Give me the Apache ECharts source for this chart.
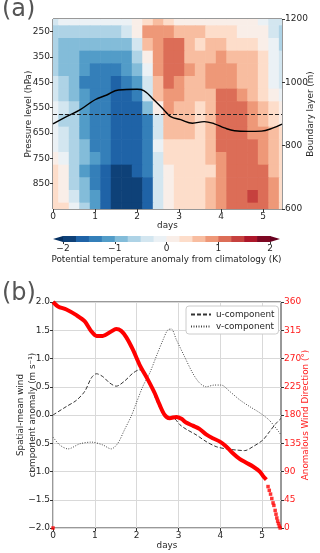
<!DOCTYPE html>
<html>
<head>
<meta charset="utf-8">
<script src="https://cdn.jsdelivr.net/npm/echarts@6/dist/echarts.min.js"></script>
<style>
html, body { margin: 0; padding: 0; background: #fff; }
#chart { width: 320px; height: 553px; }
</style>
</head>
<body>
<div id="chart"></div>
<script>
// ---- panel (a): potential temperature anomaly (K), rows = pressure, cols = days
var days = [0, 0.25, 0.5, 0.75, 1, 1.25, 1.5, 1.75, 2, 2.25, 2.5, 2.75, 3, 3.25, 3.5, 3.75, 4, 4.25, 4.5, 4.75, 5, 5.25, 5.5];
var pressureLevels = [200, 250, 300, 350, 400, 450, 500, 550, 600, 650, 700, 750, 800, 850, 900, 950];
var thetaAnomaly = [
  [-0.4,-0.1,-0.1,-0.1,-0.1,-0.1,-0.1,-0.1, 0.1, 0.4, 0.6, 0.4, 0.1, 0.1, 0.1, 0.1, 0.1, 0.1, 0.1, 0.1,-0.1,-0.4,-0.4],
  [-0.6,-0.6,-0.6,-0.6,-0.6,-0.6,-0.6,-0.4, 0.1, 0.9, 0.9, 0.9, 0.6, 0.6, 0.6, 0.4, 0.4, 0.4, 0.1, 0.1, 0.1,-0.4,-0.6],
  [-0.6,-0.9,-0.9,-0.9,-0.9,-0.9,-0.9,-0.9,-0.4, 0.6, 0.9, 1.1, 1.1, 0.6, 0.4, 0.6, 0.6, 0.4, 0.4, 0.4, 0.1,-0.1,-0.6],
  [-0.6,-0.9,-0.9,-1.1,-1.1,-1.1,-1.1,-1.1,-0.6, 0.1, 0.9, 1.1, 1.1, 0.6, 0.6, 0.6, 0.9, 0.6, 0.6, 0.6, 0.4,-0.1,-0.4],
  [-0.6,-0.9,-0.9,-1.1,-1.4,-1.4,-1.4,-1.1,-0.9,-0.1, 0.9, 1.1, 1.1, 0.9, 0.6, 0.9, 0.9, 0.9, 0.6, 0.6, 0.4,-0.1,-0.4],
  [-0.4,-0.6,-0.9,-1.4,-1.4,-1.4,-1.6,-1.4,-1.1,-0.4, 0.6, 1.1, 0.9, 0.6, 0.6, 0.9, 0.9, 0.9, 0.6, 0.6, 0.4,-0.1,-0.4],
  [-0.4,-0.6,-0.9,-1.1,-1.4,-1.4,-1.6,-1.6,-1.4,-0.4, 0.6, 0.9, 0.9, 0.6, 0.6, 0.6, 1.1, 1.1, 0.9, 0.6, 0.4, 0.1,-0.1],
  [-0.1,-0.4,-0.6,-1.1,-1.4,-1.4,-1.6,-1.6,-1.6,-0.9, 0.1, 0.9, 0.6, 0.6, 0.4, 0.6, 1.1, 1.1, 1.1, 0.9, 0.6, 0.4, 0.1],
  [-0.1,-0.6,-0.6,-1.1,-1.4,-1.4,-1.6,-1.6,-1.6,-1.4,-0.4, 0.6, 0.6, 0.6, 0.4, 0.6, 1.1, 1.1, 1.1, 0.9, 0.6, 0.4, 0.1],
  [-0.1,-0.4,-0.6,-1.1,-1.4,-1.4,-1.6,-1.6,-1.6,-1.4,-0.4, 0.6, 0.6, 0.6, 0.4, 0.6, 1.1, 1.1, 1.1, 0.9, 0.9, 0.6, 0.4],
  [-0.1,-0.4,-0.6,-0.9,-1.4,-1.4,-1.6,-1.6,-1.6,-1.4,-0.1, 0.4, 0.4, 0.4, 0.4, 0.6, 1.1, 1.1, 1.1, 1.1, 0.9, 0.6, 0.4],
  [ 0.1,-0.1,-0.6,-0.9,-1.1,-1.4,-1.6,-1.6,-1.6,-1.4,-0.4, 0.4, 0.4, 0.4, 0.4, 0.6, 0.9, 1.1, 1.1, 1.1, 0.9, 0.6, 0.4],
  [ 0.4, 0.1,-0.6,-1.1,-1.4,-1.6,-1.9,-1.9,-1.6,-1.4,-0.4, 0.1, 0.4, 0.4, 0.4, 0.4, 0.9, 1.1, 1.1, 1.1, 1.1, 0.6, 0.4],
  [ 0.4, 0.1,-0.6,-0.9,-1.4,-1.6,-1.9,-1.9,-1.9,-1.6,-0.4, 0.1, 0.4, 0.4, 0.4, 0.6, 0.9, 1.1, 1.1, 1.1, 1.1, 0.9, 0.4],
  [ 0.4, 0.1,-0.4,-0.9,-1.1,-1.6,-1.9,-1.9,-1.9,-1.6,-0.4, 0.1, 0.4, 0.4, 0.4, 0.6, 0.9, 1.1, 1.1, 1.4, 1.1, 0.9, 0.4],
  [ 0.4, 0.4,-0.1,-0.6,-1.1,-1.6,-1.9,-1.9,-1.9,-1.6,-0.4, 0.1, 0.4, 0.4, 0.4, 0.6, 0.9, 1.1, 1.1, 1.1, 1.1, 0.9, 0.4]
];
// contour levels (K) and RdBu_r colours
var levelBounds = [-2, -1.75, -1.5, -1.25, -1, -0.75, -0.5, -0.25, 0, 0.25, 0.5, 0.75, 1, 1.25, 1.5, 1.75, 2];
var levelColors = ['#0e4178', '#1f63a7', '#347fb9', '#529cc8', '#83bcd9', '#aed3e6', '#d3e6f0', '#ebf1f5',
                   '#f9eee8', '#fdddca', '#f8bda0', '#ee9878', '#dc6d57', '#c6413e', '#ad172a', '#7e0823'];
var extendColors = ['#053061', '#67001f'];
var colorbarTicks = [-2, -1, 0, 1, 2];

// boundary layer height (m)
var blDays = [0, 0.32, 0.64, 1.0, 1.28, 1.56, 2.0, 2.16, 2.4, 2.64, 2.8, 3.04, 3.32, 3.6, 3.84, 4.08, 4.32, 4.64, 4.96, 5.24, 5.45];
var blHeight = [869, 892, 913, 945, 960, 976, 978, 974, 945, 913, 892, 882, 871, 876, 869, 856, 847, 845, 846, 856, 868];
var blMean = 900;

// ---- panel (b): wind anomalies
var uDays = [0, 0.32, 0.56, 0.76, 0.92, 1.04, 1.19, 1.35, 1.51, 1.71, 1.91, 2.07, 2.15, 2.31, 2.47, 2.63, 2.75, 2.87, 3.03, 3.18, 3.42, 3.66, 3.9, 4.14, 4.38, 4.58, 4.78, 5.02, 5.18, 5.33, 5.45];
var uWind = [0.0, 0.15, 0.26, 0.42, 0.66, 0.73, 0.68, 0.57, 0.51, 0.6, 0.74, 0.8, 0.76, 0.57, 0.26, 0.03, -0.08, -0.05, -0.17, -0.25, -0.35, -0.47, -0.56, -0.6, -0.62, -0.63, -0.56, -0.44, -0.29, -0.15, -0.06];
var vDays = [0, 0.16, 0.36, 0.64, 0.92, 1.19, 1.39, 1.55, 1.71, 1.87, 1.99, 2.15, 2.31, 2.47, 2.63, 2.75, 2.83, 2.95, 3.14, 3.34, 3.5, 3.66, 3.86, 4.02, 4.22, 4.46, 4.7, 4.94, 5.18, 5.45];
var vWind = [-0.39, -0.53, -0.6, -0.51, -0.48, -0.53, -0.6, -0.5, -0.26, -0.02, 0.21, 0.51, 0.74, 1.04, 1.33, 1.51, 1.52, 1.33, 1.04, 0.74, 0.57, 0.5, 0.53, 0.53, 0.42, 0.27, 0.15, 0.04, -0.1, -0.35];
var dirDays = [0, 0.12, 0.32, 0.56, 0.76, 0.92, 1.04, 1.19, 1.39, 1.51, 1.63, 1.75, 1.91, 2.07, 2.27, 2.43, 2.55, 2.67, 2.79, 2.95, 3.07, 3.18, 3.34, 3.5, 3.66, 3.82, 3.98, 4.14, 4.3, 4.46, 4.62, 4.78, 4.94, 5.02, 5.1];
var dirValues = [360, 353, 348, 339, 329, 313, 306, 306, 313, 317, 314, 304, 284, 260, 236, 215, 196, 180, 175, 177, 174, 168, 163, 158, 149, 143, 138, 130, 119, 110, 104, 98, 90, 83, 77];
var dirTailDays = [0, 5.14, 5.17, 5.2, 5.23, 5.26, 5.28, 5.31, 5.33, 5.35, 5.37, 5.39, 5.41, 5.43];
var dirTailValues = [0, 66, 60, 54, 47, 40, 36, 28, 22, 16, 11, 7, 3, 0];

var dayMax = 5.45;
var FONT = 'DejaVu Sans';
var TXT = '#262626';

function zip(xs, ys) {
    var out = [];
    for (var i = 0; i < xs.length; i++) out.push([xs[i], ys[i]]);
    return out;
}

var heatCells = [];
for (var r = 0; r < pressureLevels.length; r++) {
    for (var c = 0; c < days.length; c++) {
        heatCells.push([days[c], pressureLevels[r], thetaAnomaly[r][c]]);
    }
}
var pieces = [{lt: levelBounds[0], color: extendColors[0]}];
var colorbarCells = [];
for (var i = 0; i < levelColors.length; i++) {
    pieces.push({gte: levelBounds[i], lt: levelBounds[i + 1], color: levelColors[i]});
    colorbarCells.push([levelBounds[i], levelBounds[i + 1], i]);
}
pieces.push({gte: levelBounds[levelBounds.length - 1], color: extendColors[1]});

var dayStep = days[1] - days[0];
var levelStep = pressureLevels[1] - pressureLevels[0];
var pMin = pressureLevels[0], pMax = pressureLevels[pressureLevels.length - 1];

function renderHeatCell(params, api) {
    var d = api.value(0), p = api.value(1);
    var a = api.coord([Math.max(d - dayStep / 2, 0), Math.max(p - levelStep / 2, pMin)]);
    var b = api.coord([Math.min(d + dayStep / 2, dayMax), Math.min(p + levelStep / 2, pMax)]);
    return {
        type: 'rect',
        shape: {x: a[0], y: a[1], width: b[0] - a[0] + 0.6, height: b[1] - a[1] + 0.6},
        style: {fill: api.visual('color')}
    };
}

function renderBarCell(params, api) {
    var a = api.coord([api.value(0), 1]);
    var b = api.coord([api.value(1), 0]);
    return {
        type: 'rect',
        shape: {x: a[0], y: a[1], width: b[0] - a[0] + 0.5, height: b[1] - a[1]},
        style: {fill: levelColors[api.value(2)]}
    };
}

function renderExtend(params, api) {
    var dir = api.value(1);
    var top = api.coord([api.value(0), 1]);
    var bot = api.coord([api.value(0), 0]);
    var tip = [top[0] + dir * 10, (top[1] + bot[1]) / 2];
    return {
        type: 'polygon',
        shape: {points: [top, bot, tip]},
        style: {fill: extendColors[api.value(2)]}
    };
}

function minus(v) { return String(v).replace('-', '\u2212'); }
function plain(v) { return String(v); }

var axisText = {fontFamily: FONT, fontSize: 9, color: TXT};
var nameText = {fontFamily: FONT, fontSize: 8.8, color: TXT};
var tickStyle = {show: true, length: 3, lineStyle: {color: '#333'}};
var noLine = {show: false, onZero: false};

var chart = echarts.init(document.getElementById('chart'));
var option = {
    animation: false,
    textStyle: {fontFamily: FONT},
    graphic: [
        {type: 'text', left: 2, top: -2, style: {text: '(a)', font: '24px DejaVu Sans', fill: '#555'}},
        {type: 'text', left: 2, top: 282, style: {text: '(b)', font: '24px DejaVu Sans', fill: '#555'}}
    ],
    grid: [
        {left: 53, top: 19, width: 229, height: 190, show: true, borderColor: '#333', borderWidth: 1,
         backgroundColor: 'transparent', containLabel: false, outerBoundsMode: 'none'},
        {left: 63, top: 236, width: 207, height: 6, containLabel: false, outerBoundsMode: 'none'},
        {left: 53, top: 302, width: 228, height: 226, show: true, borderColor: '#333', borderWidth: 1,
         backgroundColor: 'transparent', containLabel: false, outerBoundsMode: 'none'}
    ],
    xAxis: [
        {gridIndex: 0, type: 'value', min: 0, max: dayMax, interval: 1,
         name: 'days', nameLocation: 'middle', nameGap: 12, nameMoveOverlap: false, nameTextStyle: nameText,
         axisLine: noLine, splitLine: {show: false},
         axisTick: {show: true, length: 3, lineStyle: {color: '#333'}, customValues: [0, 1, 2, 3, 4, 5]},
         axisLabel: Object.assign({margin: 3, customValues: [0, 1, 2, 3, 4, 5]}, axisText)},
        {gridIndex: 1, type: 'value', min: -2, max: 2, interval: 1,
         name: 'Potential temperature anomaly from climatology (K)', nameLocation: 'middle', nameGap: 13,
         nameMoveOverlap: false, nameTextStyle: nameText,
         axisLine: noLine, splitLine: {show: false},
         axisTick: {show: true, length: 2, lineStyle: {color: '#333'}, customValues: colorbarTicks},
         axisLabel: Object.assign({margin: 2, customValues: colorbarTicks, formatter: minus}, axisText)},
        {gridIndex: 2, type: 'value', min: 0, max: dayMax, interval: 1,
         name: 'days', nameLocation: 'middle', nameGap: 13, nameMoveOverlap: false, nameTextStyle: nameText,
         axisLine: noLine,
         splitLine: {show: true, lineStyle: {color: '#d9d9d9', width: 1}},
         axisTick: {show: true, length: 3, lineStyle: {color: '#333'}, customValues: [0, 1, 2, 3, 4, 5]},
         axisLabel: Object.assign({margin: 3, customValues: [0, 1, 2, 3, 4, 5]}, axisText)}
    ],
    yAxis: [
        {gridIndex: 0, type: 'value', inverse: true, min: pMin, max: pMax,
         name: 'Pressure level (hPa)', nameLocation: 'middle', nameGap: 20, nameRotate: 90,
         nameMoveOverlap: false, nameTextStyle: nameText,
         axisLine: noLine, splitLine: {show: false},
         axisTick: {show: true, length: 3, lineStyle: {color: '#333'}, customValues: [250, 350, 450, 550, 650, 750, 850]},
         axisLabel: Object.assign({margin: 3, customValues: [250, 350, 450, 550, 650, 750, 850], formatter: plain}, axisText)},
        {gridIndex: 0, type: 'value', position: 'right', min: 600, max: 1200, interval: 200,
         name: 'Boundary layer (m)', nameLocation: 'middle', nameGap: 24, nameRotate: 90,
         nameMoveOverlap: false, nameTextStyle: nameText,
         axisLine: noLine, splitLine: {show: false}, axisTick: tickStyle,
         axisLabel: Object.assign({margin: 3, formatter: plain}, axisText)},
        {gridIndex: 1, type: 'value', min: 0, max: 1, show: false},
        {gridIndex: 2, type: 'value', min: -2, max: 2, interval: 0.5,
         name: 'Spatial-mean wind\ncomponent anomaly (m s\u207B\u00B9)', nameLocation: 'middle', nameGap: 14, nameRotate: 90,
         nameMoveOverlap: false, nameTextStyle: Object.assign({lineHeight: 12}, nameText),
         axisLine: noLine,
         splitLine: {show: true, lineStyle: {color: '#d9d9d9', width: 1}},
         axisTick: tickStyle,
         axisLabel: Object.assign({margin: 3, formatter: function (v) { return minus(v.toFixed(1)); }}, axisText)},
        {gridIndex: 2, type: 'value', position: 'right', min: 0, max: 360, interval: 45,
         name: 'Anomalous Wind Direction (\u00B0)', nameLocation: 'middle', nameGap: 20, nameRotate: 90,
         nameMoveOverlap: false, nameTextStyle: {fontFamily: FONT, fontSize: 8.8, color: '#ff1a1a'},
         axisLine: noLine, splitLine: {show: false},
         axisTick: {show: true, length: 3, lineStyle: {color: '#333'}},
         axisLabel: {margin: 3, fontFamily: FONT, fontSize: 9, color: '#ff1a1a', formatter: plain}}
    ],
    visualMap: {
        type: 'piecewise', show: false, seriesIndex: 0, dimension: 2, pieces: pieces
    },
    legend: {
        data: ['u-component', 'v-component'],
        left: 186, top: 306, orient: 'vertical',
        padding: [4, 4, 3, 4], itemGap: 3, itemWidth: 20, itemHeight: 8,
        borderColor: '#cccccc', borderWidth: 1, borderRadius: 3, backgroundColor: '#fff',
        itemStyle: {opacity: 0},
        textStyle: {fontFamily: FONT, fontSize: 8.8, color: TXT}
    },
    series: [
        {type: 'custom', name: 'theta', xAxisIndex: 0, yAxisIndex: 0, data: heatCells,
         encode: {x: 0, y: 1}, renderItem: renderHeatCell, clip: true, silent: true, z: 1},
        {type: 'line', name: 'bl', xAxisIndex: 0, yAxisIndex: 1, data: zip(blDays, blHeight),
         smooth: 0.4, symbol: 'none', silent: true, z: 3,
         lineStyle: {color: '#000', width: 1.4},
         markLine: {silent: true, symbol: 'none', label: {show: false},
                    lineStyle: {color: '#222', width: 1.1, type: [4, 2]},
                    data: [{yAxis: blMean}]}},
        {type: 'custom', name: 'colorbar', xAxisIndex: 1, yAxisIndex: 2, data: colorbarCells,
         renderItem: renderBarCell, silent: true},
        {type: 'custom', name: 'extend', xAxisIndex: 1, yAxisIndex: 2,
         data: [[levelBounds[0], -1, 0], [levelBounds[levelBounds.length - 1], 1, 1]],
         renderItem: renderExtend, silent: true},
        {type: 'line', name: 'u-component', xAxisIndex: 2, yAxisIndex: 3, data: zip(uDays, uWind),
         smooth: 0.3, symbol: 'none', z: 3,
         lineStyle: {color: '#333', width: 1, type: [4, 2]}},
        {type: 'line', name: 'v-component', xAxisIndex: 2, yAxisIndex: 3, data: zip(vDays, vWind),
         smooth: 0.3, symbol: 'none', z: 3,
         lineStyle: {color: '#444', width: 1, type: [1, 1.5]}},
        {type: 'line', name: 'direction', xAxisIndex: 2, yAxisIndex: 4, data: zip(dirDays, dirValues),
         smooth: 0.3, symbol: 'none', z: 4,
         lineStyle: {color: '#ff0000', width: 4}},
        {type: 'scatter', name: 'direction tail', xAxisIndex: 2, yAxisIndex: 4, data: zip(dirTailDays, dirTailValues),
         symbol: 'rect', symbolSize: 3.5, z: 4, clip: false,
         itemStyle: {color: '#ff0000'}}
    ]
};
chart.setOption(option);
</script>
</body>
</html>
